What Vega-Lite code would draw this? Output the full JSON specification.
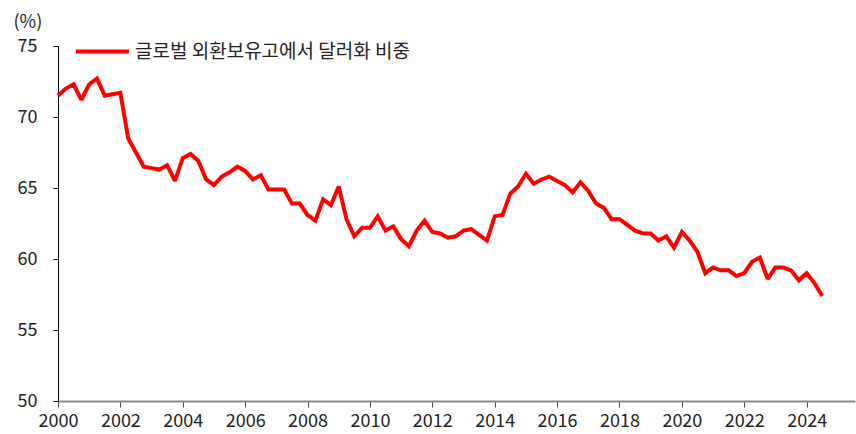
{
  "$schema": "https://vega.github.io/schema/vega-lite/v6.json",
  "width": 797,
  "height": 355,
  "autosize": {"type": "none"},
  "padding": {"left": 58, "top": 46, "right": 1, "bottom": 33},
  "background": "white",
  "config": {
    "view": {"stroke": null},
    "font": "Noto Sans CJK KR",
    "legend": {"padding": 0},
    "axis": {"grid": false, "labelFont": "Noto Sans CJK KR", "titleFont": "Noto Sans CJK KR", "labelColor": "#222", "titleColor": "#222"}
  },
  "data": {
    "values": [
      {"t": 2000.00, "v": 71.5, "s": "글로벌 외환보유고에서 달러화 비중"},
      {"t": 2000.25, "v": 72.0, "s": "글로벌 외환보유고에서 달러화 비중"},
      {"t": 2000.50, "v": 72.3, "s": "글로벌 외환보유고에서 달러화 비중"},
      {"t": 2000.75, "v": 71.2, "s": "글로벌 외환보유고에서 달러화 비중"},
      {"t": 2001.00, "v": 72.3, "s": "글로벌 외환보유고에서 달러화 비중"},
      {"t": 2001.25, "v": 72.7, "s": "글로벌 외환보유고에서 달러화 비중"},
      {"t": 2001.50, "v": 71.5, "s": "글로벌 외환보유고에서 달러화 비중"},
      {"t": 2001.75, "v": 71.6, "s": "글로벌 외환보유고에서 달러화 비중"},
      {"t": 2002.00, "v": 71.7, "s": "글로벌 외환보유고에서 달러화 비중"},
      {"t": 2002.25, "v": 68.5, "s": "글로벌 외환보유고에서 달러화 비중"},
      {"t": 2002.50, "v": 67.5, "s": "글로벌 외환보유고에서 달러화 비중"},
      {"t": 2002.75, "v": 66.5, "s": "글로벌 외환보유고에서 달러화 비중"},
      {"t": 2003.00, "v": 66.4, "s": "글로벌 외환보유고에서 달러화 비중"},
      {"t": 2003.25, "v": 66.3, "s": "글로벌 외환보유고에서 달러화 비중"},
      {"t": 2003.50, "v": 66.6, "s": "글로벌 외환보유고에서 달러화 비중"},
      {"t": 2003.75, "v": 65.5, "s": "글로벌 외환보유고에서 달러화 비중"},
      {"t": 2004.00, "v": 67.1, "s": "글로벌 외환보유고에서 달러화 비중"},
      {"t": 2004.25, "v": 67.4, "s": "글로벌 외환보유고에서 달러화 비중"},
      {"t": 2004.50, "v": 66.9, "s": "글로벌 외환보유고에서 달러화 비중"},
      {"t": 2004.75, "v": 65.6, "s": "글로벌 외환보유고에서 달러화 비중"},
      {"t": 2005.00, "v": 65.2, "s": "글로벌 외환보유고에서 달러화 비중"},
      {"t": 2005.25, "v": 65.8, "s": "글로벌 외환보유고에서 달러화 비중"},
      {"t": 2005.50, "v": 66.1, "s": "글로벌 외환보유고에서 달러화 비중"},
      {"t": 2005.75, "v": 66.5, "s": "글로벌 외환보유고에서 달러화 비중"},
      {"t": 2006.00, "v": 66.2, "s": "글로벌 외환보유고에서 달러화 비중"},
      {"t": 2006.25, "v": 65.6, "s": "글로벌 외환보유고에서 달러화 비중"},
      {"t": 2006.50, "v": 65.9, "s": "글로벌 외환보유고에서 달러화 비중"},
      {"t": 2006.75, "v": 64.9, "s": "글로벌 외환보유고에서 달러화 비중"},
      {"t": 2007.00, "v": 64.9, "s": "글로벌 외환보유고에서 달러화 비중"},
      {"t": 2007.25, "v": 64.9, "s": "글로벌 외환보유고에서 달러화 비중"},
      {"t": 2007.50, "v": 63.9, "s": "글로벌 외환보유고에서 달러화 비중"},
      {"t": 2007.75, "v": 63.9, "s": "글로벌 외환보유고에서 달러화 비중"},
      {"t": 2008.00, "v": 63.1, "s": "글로벌 외환보유고에서 달러화 비중"},
      {"t": 2008.25, "v": 62.7, "s": "글로벌 외환보유고에서 달러화 비중"},
      {"t": 2008.50, "v": 64.2, "s": "글로벌 외환보유고에서 달러화 비중"},
      {"t": 2008.75, "v": 63.8, "s": "글로벌 외환보유고에서 달러화 비중"},
      {"t": 2009.00, "v": 65.1, "s": "글로벌 외환보유고에서 달러화 비중"},
      {"t": 2009.25, "v": 62.8, "s": "글로벌 외환보유고에서 달러화 비중"},
      {"t": 2009.50, "v": 61.6, "s": "글로벌 외환보유고에서 달러화 비중"},
      {"t": 2009.75, "v": 62.2, "s": "글로벌 외환보유고에서 달러화 비중"},
      {"t": 2010.00, "v": 62.2, "s": "글로벌 외환보유고에서 달러화 비중"},
      {"t": 2010.25, "v": 63.0, "s": "글로벌 외환보유고에서 달러화 비중"},
      {"t": 2010.50, "v": 62.0, "s": "글로벌 외환보유고에서 달러화 비중"},
      {"t": 2010.75, "v": 62.3, "s": "글로벌 외환보유고에서 달러화 비중"},
      {"t": 2011.00, "v": 61.4, "s": "글로벌 외환보유고에서 달러화 비중"},
      {"t": 2011.25, "v": 60.9, "s": "글로벌 외환보유고에서 달러화 비중"},
      {"t": 2011.50, "v": 62.0, "s": "글로벌 외환보유고에서 달러화 비중"},
      {"t": 2011.75, "v": 62.7, "s": "글로벌 외환보유고에서 달러화 비중"},
      {"t": 2012.00, "v": 61.9, "s": "글로벌 외환보유고에서 달러화 비중"},
      {"t": 2012.25, "v": 61.8, "s": "글로벌 외환보유고에서 달러화 비중"},
      {"t": 2012.50, "v": 61.5, "s": "글로벌 외환보유고에서 달러화 비중"},
      {"t": 2012.75, "v": 61.6, "s": "글로벌 외환보유고에서 달러화 비중"},
      {"t": 2013.00, "v": 62.0, "s": "글로벌 외환보유고에서 달러화 비중"},
      {"t": 2013.25, "v": 62.1, "s": "글로벌 외환보유고에서 달러화 비중"},
      {"t": 2013.50, "v": 61.7, "s": "글로벌 외환보유고에서 달러화 비중"},
      {"t": 2013.75, "v": 61.3, "s": "글로벌 외환보유고에서 달러화 비중"},
      {"t": 2014.00, "v": 63.0, "s": "글로벌 외환보유고에서 달러화 비중"},
      {"t": 2014.25, "v": 63.1, "s": "글로벌 외환보유고에서 달러화 비중"},
      {"t": 2014.50, "v": 64.6, "s": "글로벌 외환보유고에서 달러화 비중"},
      {"t": 2014.75, "v": 65.1, "s": "글로벌 외환보유고에서 달러화 비중"},
      {"t": 2015.00, "v": 66.0, "s": "글로벌 외환보유고에서 달러화 비중"},
      {"t": 2015.25, "v": 65.3, "s": "글로벌 외환보유고에서 달러화 비중"},
      {"t": 2015.50, "v": 65.6, "s": "글로벌 외환보유고에서 달러화 비중"},
      {"t": 2015.75, "v": 65.8, "s": "글로벌 외환보유고에서 달러화 비중"},
      {"t": 2016.00, "v": 65.5, "s": "글로벌 외환보유고에서 달러화 비중"},
      {"t": 2016.25, "v": 65.2, "s": "글로벌 외환보유고에서 달러화 비중"},
      {"t": 2016.50, "v": 64.7, "s": "글로벌 외환보유고에서 달러화 비중"},
      {"t": 2016.75, "v": 65.4, "s": "글로벌 외환보유고에서 달러화 비중"},
      {"t": 2017.00, "v": 64.8, "s": "글로벌 외환보유고에서 달러화 비중"},
      {"t": 2017.25, "v": 63.9, "s": "글로벌 외환보유고에서 달러화 비중"},
      {"t": 2017.50, "v": 63.6, "s": "글로벌 외환보유고에서 달러화 비중"},
      {"t": 2017.75, "v": 62.8, "s": "글로벌 외환보유고에서 달러화 비중"},
      {"t": 2018.00, "v": 62.8, "s": "글로벌 외환보유고에서 달러화 비중"},
      {"t": 2018.25, "v": 62.4, "s": "글로벌 외환보유고에서 달러화 비중"},
      {"t": 2018.50, "v": 62.0, "s": "글로벌 외환보유고에서 달러화 비중"},
      {"t": 2018.75, "v": 61.8, "s": "글로벌 외환보유고에서 달러화 비중"},
      {"t": 2019.00, "v": 61.8, "s": "글로벌 외환보유고에서 달러화 비중"},
      {"t": 2019.25, "v": 61.3, "s": "글로벌 외환보유고에서 달러화 비중"},
      {"t": 2019.50, "v": 61.6, "s": "글로벌 외환보유고에서 달러화 비중"},
      {"t": 2019.75, "v": 60.8, "s": "글로벌 외환보유고에서 달러화 비중"},
      {"t": 2020.00, "v": 61.9, "s": "글로벌 외환보유고에서 달러화 비중"},
      {"t": 2020.25, "v": 61.3, "s": "글로벌 외환보유고에서 달러화 비중"},
      {"t": 2020.50, "v": 60.5, "s": "글로벌 외환보유고에서 달러화 비중"},
      {"t": 2020.75, "v": 59.0, "s": "글로벌 외환보유고에서 달러화 비중"},
      {"t": 2021.00, "v": 59.4, "s": "글로벌 외환보유고에서 달러화 비중"},
      {"t": 2021.25, "v": 59.2, "s": "글로벌 외환보유고에서 달러화 비중"},
      {"t": 2021.50, "v": 59.2, "s": "글로벌 외환보유고에서 달러화 비중"},
      {"t": 2021.75, "v": 58.8, "s": "글로벌 외환보유고에서 달러화 비중"},
      {"t": 2022.00, "v": 59.0, "s": "글로벌 외환보유고에서 달러화 비중"},
      {"t": 2022.25, "v": 59.8, "s": "글로벌 외환보유고에서 달러화 비중"},
      {"t": 2022.50, "v": 60.1, "s": "글로벌 외환보유고에서 달러화 비중"},
      {"t": 2022.75, "v": 58.6, "s": "글로벌 외환보유고에서 달러화 비중"},
      {"t": 2023.00, "v": 59.4, "s": "글로벌 외환보유고에서 달러화 비중"},
      {"t": 2023.25, "v": 59.4, "s": "글로벌 외환보유고에서 달러화 비중"},
      {"t": 2023.50, "v": 59.2, "s": "글로벌 외환보유고에서 달러화 비중"},
      {"t": 2023.75, "v": 58.5, "s": "글로벌 외환보유고에서 달러화 비중"},
      {"t": 2024.00, "v": 59.0, "s": "글로벌 외환보유고에서 달러화 비중"},
      {"t": 2024.25, "v": 58.3, "s": "글로벌 외환보유고에서 달러화 비중"},
      {"t": 2024.50, "v": 57.4, "s": "글로벌 외환보유고에서 달러화 비중"}
    ]
  },
  "mark": {"type": "line", "strokeWidth": 4, "strokeJoin": "miter", "strokeMiterLimit": 2},
  "encoding": {
    "x": {
      "field": "t",
      "type": "quantitative",
      "scale": {"domain": [2000, 2025.55], "nice": false, "zero": false},
      "axis": {
        "title": null,
        "values": [2000, 2002, 2004, 2006, 2008, 2010, 2012, 2014, 2016, 2018, 2020, 2022, 2024],
        "format": "d",
        "labelFontSize": 18,
        "labelPadding": 5,
        "tickSize": 6,
        "tickColor": "#444",
        "domainColor": "#888",
        "domainWidth": 2,
        "labelFlush": false
      }
    },
    "y": {
      "field": "v",
      "type": "quantitative",
      "scale": {"domain": [50, 75], "nice": false, "zero": false},
      "axis": {
        "values": [50, 55, 60, 65, 70, 75],
        "title": "(%)",
        "titleAngle": 0,
        "titleAlign": "left",
        "titleBaseline": "middle",
        "titleX": -45,
        "titleY": -24,
        "titleFontSize": 18,
        "titleFontWeight": "normal",
        "labelFontSize": 18,
        "labelPadding": 16,
        "tickSize": 5,
        "tickColor": "#000",
        "domainColor": "#000",
        "domainWidth": 1,
        "labelFlush": false
      }
    },
    "color": {
      "field": "s",
      "type": "nominal",
      "scale": {"range": ["#ff0000"]},
      "legend": {
        "title": null,
        "orient": "none",
        "legendX": 16,
        "legendY": -23,
        "symbolType": "stroke",
        "symbolSize": 2809,
        "symbolStrokeWidth": 4,
        "labelFontSize": 19,
        "labelFont": "Noto Sans CJK KR",
        "labelColor": "#222",
        "labelOffset": 4,
        "labelLimit": 500
      }
    }
  }
}
